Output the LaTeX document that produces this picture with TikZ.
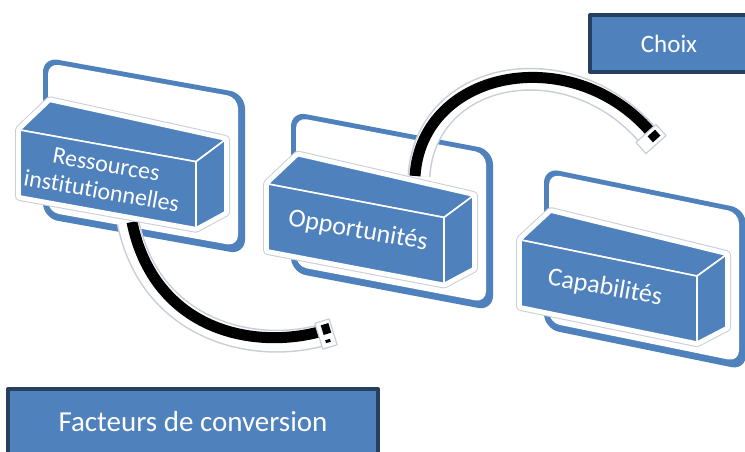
\documentclass[tikz,border=0pt]{standalone}
\usepackage{fontspec}
\setmainfont{Carlito}[Ligatures=NoCommon]
\definecolor{boxblue}{RGB}{79,129,189}
\definecolor{navy}{RGB}{38,64,96}
\definecolor{rim}{RGB}{200,206,216}

\begin{document}
\begin{tikzpicture}[x=1pt, y=-1pt, line join=round]

	\tikzset{
		panelrim/.style={fill=boxblue, rounded corners=15pt},
		panelface/.style={fill=white, rounded corners=11pt},
		boxhalo/.style={draw=rim, fill=white, line width=10pt},
		boxrim/.style={draw=white, fill=white, line width=8pt},
		boxface/.style={fill=boxblue, draw=white, line width=1.6pt},
		boxtext/.style={text=white, align=center, rotate=-10, font=\fontsize{24}{27}\selectfont},
		tagbox/.style={fill=boxblue, draw=navy, line width=4pt, text=white, inner sep=0pt},
		tubeout/.style={draw=rim, line width=23pt},
		tubein/.style={draw=white, line width=20pt},
		tubecore/.style={draw=black, line width=11pt},
		capout/.style={rectangle, draw=rim, fill=white, line width=1.2pt, minimum width=15pt, minimum height=27pt, inner sep=0pt},
		capcore/.style={rectangle, fill=black, minimum width=8pt, minimum height=10pt, inner sep=0pt},
		capslit/.style={rectangle, fill=black, minimum width=5pt, minimum height=3pt, inner sep=0pt}
	}

	\clip (0,0) rectangle (745,451);
	\useasboundingbox (0,0) rectangle (745,451);

	% ----------------------------------------------------
	% Panneaux arrondis derriere les blocs
	% ----------------------------------------------------
	\foreach \sx/\sy/\sl in {20/130/0.18, 268/184/0.19, 521/240/0.205}{
		\begin{scope}[shift={(\sx,\sy)}, yslant=-\sl]
			\fill[panelrim] (23,-77) rectangle (225,84);
			\fill[panelface] (28,-72) rectangle (218,77);
		\end{scope}
	}

	% Fleche du bas (devant le panneau, derriere le bloc)
	\coordinate (r1) at (128,222);
	\coordinate (r2) at (326,334);
	\draw[tubeout] (r1) .. controls +(22,108) and +(-72,22) .. (r2);
	\draw[tubein] (r1) .. controls +(22,108) and +(-72,22) .. (r2);
	\draw[tubecore] ([xshift=4pt]r1) .. controls +(22,108) and +(-72,22) .. ([yshift=4pt]r2);
	\node[capout, rotate=17] (c1) at (r2) {};
	\node[capcore, rotate=17] at ([yshift=5pt]c1.center) {};
	\node[capslit, rotate=17] at ([xshift=2pt,yshift=-7pt]c1.center) {};

	% ----------------------------------------------------
	% Blocs 3D
	% ----------------------------------------------------
	\foreach \sx/\sy/\sl in {20/130/0.18, 268/184/0.19, 521/240/0.205}{
		\begin{scope}[shift={(\sx,\sy)}, yslant=-\sl]
			\draw[boxhalo] (0,0) -- (30,-34) -- (205,-27) -- (205,45) -- (176,66) -- (0,66) -- cycle;
			\draw[boxrim] (0,0) -- (30,-34) -- (205,-27) -- (205,45) -- (176,66) -- (0,66) -- cycle;
			\draw[boxface] (0,0) -- (30,-34) -- (205,-27) -- (176,0) -- cycle; % dessus
			\draw[boxface] (176,0) -- (205,-27) -- (205,45) -- (176,66) -- cycle; % cote
			\draw[boxface] (0,0) rectangle (176,66); % face
		\end{scope}
	}

	\node[boxtext] (res) at (104,178) {Ressources\\institutionnelles};
	\node[boxtext, font=\fontsize{26}{28}\selectfont] (opp) at (358,231) {Opportunités};
	\node[boxtext, font=\fontsize{26}{28}\selectfont] (cap) at (605,288) {Capabilités};

	% Fleche du haut (sort du dessus du bloc du milieu)
	\coordinate (o1) at (419,176);
	\coordinate (o2) at (651,139);
	\draw[tubeout] (o1) .. controls +(7,-108) and +(-78,-96) .. (o2);
	\draw[tubein] (o1) .. controls +(7,-108) and +(-78,-96) .. (o2);
	\draw[tubecore] ([xshift=-4pt]o1) .. controls +(7,-108) and +(-78,-96) .. ([xshift=3pt,yshift=3pt]o2);
	\node[capout, rotate=-48] (c2) at (o2) {};
	\node[capcore, rotate=-48] at ([xshift=3pt,yshift=3pt]c2.center) {};

	% ----------------------------------------------------
	% Etiquettes
	% ----------------------------------------------------
	\node[tagbox, minimum width=158pt, minimum height=57pt, font=\fontsize{25}{28}\selectfont] (choix) at (669,43.5) {Choix};
	\node[tagbox, minimum width=370pt, minimum height=66pt, font=\fontsize{29}{32}\selectfont] (fact) at (193,422) {Facteurs de conversion};

\end{tikzpicture}
\end{document}
